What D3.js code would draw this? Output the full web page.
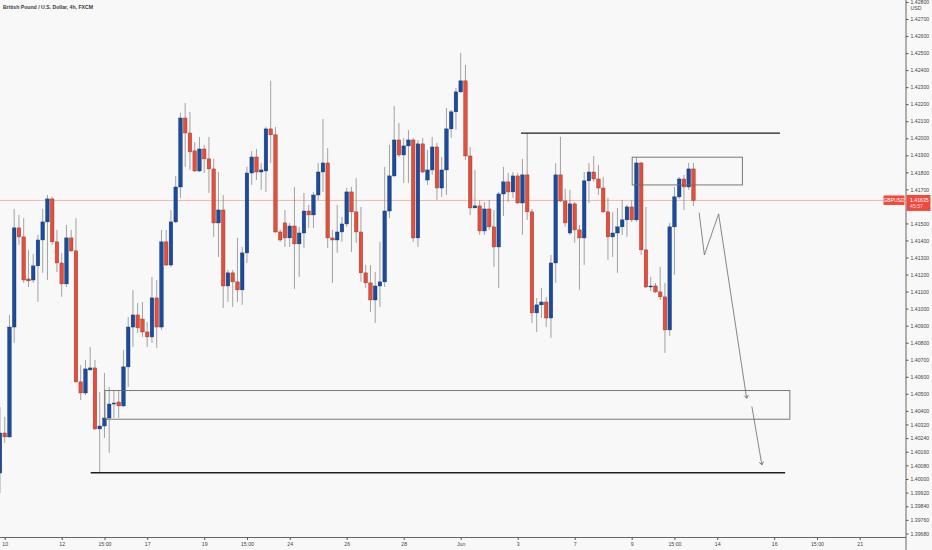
<!DOCTYPE html>
<html lang="en">
<head>
<meta charset="utf-8">
<title>GBPUSD 4h</title>
<script src="https://d3js.org/d3.v7.min.js"></script>
<style>
  html, body { margin: 0; padding: 0; background: #f8f8f8; }
  svg { display: block; font-family: "Liberation Sans", Arial, sans-serif; }
</style>
</head>
<body>
<script>
  // bar index of the first candle (last bar of Friday May 7)
  const firstBar = -1;

  // 4h candles
  const opens = [1.40035, 1.40270, 1.40247, 1.40892, 1.41474, 1.41421, 1.41174, 1.41168, 1.41251, 1.41403,
    1.41509, 1.41644, 1.41392, 1.41268, 1.41145, 1.41415, 1.41339, 1.40570, 1.40505, 1.40640,
    1.40652, 1.40294, 1.40311, 1.40358, 1.40440, 1.40452, 1.40429, 1.40658, 1.40892, 1.40963,
    1.40939, 1.40863, 1.40834, 1.41063, 1.40892, 1.41392, 1.41256, 1.41509, 1.41714, 1.42119,
    1.42031, 1.41926, 1.41808, 1.41937, 1.41879, 1.41820, 1.41503, 1.41579, 1.41133, 1.41210,
    1.41157, 1.41110, 1.41327, 1.41796, 1.41890, 1.41802, 1.41808, 1.42055, 1.42020, 1.41450,
    1.41503, 1.41415, 1.41485, 1.41380, 1.41444, 1.41573, 1.41550, 1.41667, 1.41802, 1.41855,
    1.41415, 1.41403, 1.41450, 1.41497, 1.41685, 1.41568, 1.41450, 1.41210, 1.41151, 1.41051,
    1.41133, 1.41157, 1.41573, 1.41779, 1.41990, 1.41902, 1.41955, 1.41990, 1.41415, 1.41967,
    1.41755, 1.41814, 1.41949, 1.41708, 1.41814, 1.42055, 1.42155, 1.42272, 1.42337, 1.41896,
    1.41591, 1.41603, 1.41456, 1.41585, 1.41480, 1.41362, 1.41673, 1.41744, 1.41685, 1.41779,
    1.41620, 1.41785, 1.41568, 1.40975, 1.41022, 1.41039, 1.40945, 1.41268, 1.41785, 1.41632,
    1.41444, 1.41615, 1.41462, 1.41415, 1.41750, 1.41802, 1.41761, 1.41708, 1.41568, 1.41421,
    1.41444, 1.41480, 1.41521, 1.41597, 1.41521, 1.41855, 1.41345, 1.41127, 1.41133, 1.41098,
    1.41069, 1.40875, 1.41480, 1.41656, 1.41761, 1.41714, 1.41820];
  const highs = [1.40423, 1.40364, 1.40963, 1.41585, 1.41550, 1.41532, 1.41345, 1.41321, 1.41433, 1.41585,
    1.41667, 1.41656, 1.41462, 1.41327, 1.41491, 1.41462, 1.41532, 1.40669, 1.40699, 1.40775,
    1.40699, 1.40511, 1.40622, 1.40540, 1.40523, 1.40523, 1.40757, 1.40951, 1.41110, 1.41033,
    1.41039, 1.40922, 1.41186, 1.41168, 1.41462, 1.41462, 1.41579, 1.41779, 1.42149, 1.42207,
    1.42155, 1.41978, 1.42008, 1.41961, 1.42008, 1.41879, 1.41802, 1.41667, 1.41227, 1.41227,
    1.41415, 1.41362, 1.41832, 1.41926, 1.41937, 1.41855, 1.42067, 1.42337, 1.42067, 1.41462,
    1.41579, 1.41503, 1.41714, 1.41480, 1.41679, 1.41609, 1.41685, 1.41855, 1.42113, 1.41943,
    1.41462, 1.41609, 1.41538, 1.41708, 1.41714, 1.41767, 1.41597, 1.41256, 1.41256, 1.41215,
    1.41392, 1.41832, 1.41961, 1.42190, 1.42090, 1.42002, 1.42049, 1.42002, 1.41990, 1.42002,
    1.41932, 1.42008, 1.41973, 1.41890, 1.42178, 1.42166, 1.42295, 1.42501, 1.42430, 1.41949,
    1.41814, 1.41638, 1.41626, 1.41638, 1.41579, 1.41685, 1.41832, 1.41796, 1.41802, 1.41796,
    1.41879, 1.42031, 1.41585, 1.41063, 1.41121, 1.41069, 1.41315, 1.41855, 1.42008, 1.41703,
    1.41697, 1.41626, 1.41491, 1.41802, 1.41855, 1.41896, 1.41843, 1.41773, 1.41650, 1.41568,
    1.41591, 1.41638, 1.41609, 1.41638, 1.41890, 1.41861, 1.41597, 1.41186, 1.41151, 1.41245,
    1.41151, 1.41503, 1.41714, 1.41773, 1.41785, 1.41855, 1.41855];
  const lows = [1.39918, 1.40212, 1.40241, 1.40799, 1.41374, 1.41151, 1.41127, 1.41151, 1.41039, 1.41210,
    1.41168, 1.41374, 1.41215, 1.41069, 1.41127, 1.41333, 1.40564, 1.40464, 1.40493, 1.40640,
    1.40288, 1.40035, 1.40241, 1.40153, 1.40358, 1.40358, 1.40423, 1.40540, 1.40775, 1.40857,
    1.40834, 1.40775, 1.40799, 1.40769, 1.40875, 1.41251, 1.41245, 1.41503, 1.41650, 1.41832,
    1.41814, 1.41802, 1.41802, 1.41796, 1.41679, 1.41421, 1.41303, 1.41004, 1.41039, 1.41010,
    1.41039, 1.41022, 1.41268, 1.41726, 1.41755, 1.41697, 1.41685, 1.41855, 1.41444, 1.41392,
    1.41362, 1.41362, 1.41116, 1.41186, 1.41356, 1.41474, 1.41474, 1.41638, 1.41685, 1.41356,
    1.41151, 1.41327, 1.41392, 1.41480, 1.41333, 1.41386, 1.41157, 1.41121, 1.40981, 1.40916,
    1.41010, 1.41127, 1.41532, 1.41773, 1.41890, 1.41738, 1.41738, 1.41392, 1.41362, 1.41796,
    1.41726, 1.41785, 1.41638, 1.41656, 1.41667, 1.42002, 1.42049, 1.42266, 1.41873, 1.41550,
    1.41591, 1.41433, 1.41433, 1.41462, 1.41245, 1.41121, 1.41544, 1.41626, 1.41650, 1.41615,
    1.41433, 1.41521, 1.40916, 1.40863, 1.40945, 1.40892, 1.40828, 1.41151, 1.41626, 1.41480,
    1.41433, 1.41386, 1.41110, 1.41256, 1.41620, 1.41744, 1.41667, 1.41562, 1.41286, 1.41303,
    1.41210, 1.41433, 1.41421, 1.41509, 1.41509, 1.41315, 1.41121, 1.41104, 1.41092, 1.41051,
    1.40740, 1.40840, 1.41198, 1.41644, 1.41579, 1.41697, 1.41603];
  const closes = [1.40270, 1.40247, 1.40892, 1.41474, 1.41421, 1.41168, 1.41163, 1.41251, 1.41403, 1.41509,
    1.41644, 1.41392, 1.41268, 1.41145, 1.41415, 1.41339, 1.40570, 1.40505, 1.40646, 1.40652,
    1.40294, 1.40311, 1.40358, 1.40440, 1.40446, 1.40429, 1.40658, 1.40892, 1.40963, 1.40887,
    1.40863, 1.40834, 1.41063, 1.40892, 1.41392, 1.41256, 1.41509, 1.41714, 1.42119, 1.42031,
    1.41920, 1.41808, 1.41937, 1.41879, 1.41820, 1.41503, 1.41579, 1.41133, 1.41210, 1.41157,
    1.41110, 1.41327, 1.41796, 1.41890, 1.41802, 1.41814, 1.42055, 1.42020, 1.41450, 1.41403,
    1.41415, 1.41485, 1.41380, 1.41444, 1.41573, 1.41550, 1.41667, 1.41802, 1.41855, 1.41415,
    1.41403, 1.41450, 1.41497, 1.41685, 1.41568, 1.41450, 1.41210, 1.41151, 1.41051, 1.41133,
    1.41157, 1.41573, 1.41779, 1.41990, 1.41902, 1.41955, 1.41990, 1.41415, 1.41967, 1.41802,
    1.41814, 1.41949, 1.41708, 1.41814, 1.42055, 1.42155, 1.42272, 1.42337, 1.41896, 1.41591,
    1.41603, 1.41456, 1.41585, 1.41480, 1.41362, 1.41673, 1.41744, 1.41685, 1.41779, 1.41620,
    1.41785, 1.41568, 1.40975, 1.41022, 1.41039, 1.40945, 1.41268, 1.41785, 1.41632, 1.41503,
    1.41615, 1.41462, 1.41415, 1.41750, 1.41802, 1.41761, 1.41708, 1.41568, 1.41421, 1.41444,
    1.41480, 1.41521, 1.41597, 1.41521, 1.41855, 1.41345, 1.41127, 1.41133, 1.41098, 1.41069,
    1.40875, 1.41480, 1.41656, 1.41761, 1.41714, 1.41820, 1.41635];

  // axis ticks
  const priceTicks = [1.428, 1.427, 1.426, 1.425, 1.424, 1.423, 1.422, 1.421, 1.420, 1.419, 1.418, 1.417,
    1.415, 1.414, 1.413, 1.412, 1.411, 1.410, 1.409, 1.408, 1.407, 1.406, 1.405, 1.404,
    1.4032, 1.4024, 1.4016, 1.4008, 1.400, 1.3992, 1.3984, 1.3976, 1.3968];
  const timeTickBars = [0, 12, 21, 30, 42, 51, 60, 72, 84, 96, 108, 120, 132, 141, 150, 162, 171, 180];
  const timeTickLabels = ["10", "12", "15:00", "17", "19", "15:00", "24", "26", "28", "Jun",
    "3", "7", "9", "15:00", "14", "16", "15:00", "21"];

  const lastPrice = 1.41635;

  // drawings on the chart (bar index / price)
  const zones = [
    { b0: 132.1, b1: 155.3, p0: 1.41889, p1: 1.41726 },
    { b0: 21.1, b1: 165.3, p0: 1.40519, p1: 1.40351 }
  ];
  const levels = [
    { b0: 108.7, b1: 163.2, p: 1.42030 },
    { b0: 18.1, b1: 164.3, p: 1.40037 }
  ];
  const pathBars = [146.2, 147.3, 150.3, 156.2];
  const pathPrices = [1.41563, 1.41315, 1.41556, 1.40474];
  const arrow2Bars = [157.3, 159.4];
  const arrow2Prices = [1.40425, 1.40083];

  const width = 932, height = 550;
  const plotRight = 906, plotBottom = 537.5;
  const blue = "#1b4b9b", red = "#e1503c", tagRed = "#ef4a3c";

  const svg = d3.select("body").append("svg")
    .attr("width", width)
    .attr("height", height);

  svg.append("rect").attr("width", width).attr("height", height).attr("fill", "#f8f8f8");

  const defs = svg.append("defs");
  defs.append("clipPath").attr("id", "plot")
    .append("rect").attr("width", plotRight).attr("height", plotBottom);
  defs.append("marker")
    .attr("id", "head")
    .attr("viewBox", "-5 -5 10 10")
    .attr("markerUnits", "userSpaceOnUse")
    .attr("markerWidth", 10).attr("markerHeight", 10)
    .attr("orient", "auto")
    .append("path")
    .attr("d", "M-3,-2.2L0,0L-3,2.2")
    .attr("fill", "none")
    .attr("stroke", "#666")
    .attr("stroke-width", 0.8);

  const x = d3.scaleLinear().domain([0, 180]).range([4.7, 859.7]);
  const y = d3.scaleLinear().domain([1.427, 1.400]).range([19, 479]);

  const candles = opens.map((o, i) => ({
    bar: firstBar + i, o: o, h: highs[i], l: lows[i], c: closes[i]
  }));

  const plot = svg.append("g").attr("clip-path", "url(#plot)");

  // last price line
  plot.append("line")
    .attr("x1", 0).attr("x2", plotRight)
    .attr("y1", y(lastPrice)).attr("y2", y(lastPrice))
    .attr("stroke", "#f3a6a0")
    .attr("stroke-width", 0.8);

  // wicks
  plot.append("g")
    .selectAll("line")
    .data(candles)
    .join("line")
    .attr("x1", d => x(d.bar)).attr("x2", d => x(d.bar))
    .attr("y1", d => y(d.h)).attr("y2", d => y(d.l))
    .attr("stroke", "#8c8c8c")
    .attr("stroke-width", 0.8);

  // bodies
  const bodyW = 3.6;
  plot.append("g")
    .selectAll("rect")
    .data(candles)
    .join("rect")
    .attr("x", d => x(d.bar) - bodyW / 2)
    .attr("width", bodyW)
    .attr("y", d => y(Math.max(d.o, d.c)))
    .attr("height", d => Math.max(1, Math.abs(y(d.o) - y(d.c))))
    .attr("fill", d => d.c >= d.o ? blue : red)
    .attr("stroke", d => d.c >= d.o ? "#12336d" : "#9b3326")
    .attr("stroke-width", 0.4);

  // zones
  plot.append("g")
    .selectAll("rect")
    .data(zones)
    .join("rect")
    .attr("x", d => x(d.b0))
    .attr("width", d => x(d.b1) - x(d.b0))
    .attr("y", d => y(d.p0))
    .attr("height", d => y(d.p1) - y(d.p0))
    .attr("fill", "none")
    .attr("stroke", "#6a6a6a")
    .attr("stroke-width", 0.9);

  // levels
  plot.append("g")
    .selectAll("line")
    .data(levels)
    .join("line")
    .attr("x1", d => x(d.b0)).attr("x2", d => x(d.b1))
    .attr("y1", d => y(d.p)).attr("y2", d => y(d.p))
    .attr("stroke", "#1e1e1e")
    .attr("stroke-width", 1.4);

  // projected path
  const line = d3.line().x(d => x(d[0])).y(d => y(d[1]));
  plot.append("path")
    .attr("d", line(d3.zip(pathBars, pathPrices)))
    .attr("fill", "none")
    .attr("stroke", "#6a6a6a")
    .attr("stroke-width", 0.8)
    .attr("marker-end", "url(#head)");
  plot.append("path")
    .attr("d", line(d3.zip(arrow2Bars, arrow2Prices)))
    .attr("fill", "none")
    .attr("stroke", "#6a6a6a")
    .attr("stroke-width", 0.8)
    .attr("marker-end", "url(#head)");

  // price axis
  const yAxis = svg.append("g")
    .attr("transform", "translate(" + plotRight + ",0)")
    .call(d3.axisRight(y).tickValues(priceTicks).tickFormat(d3.format(".5f")).tickSize(2.5).tickPadding(2));
  yAxis.select(".domain").remove();
  yAxis.selectAll("line").attr("stroke", "#555");
  yAxis.selectAll("text").attr("font-size", 5.2).attr("fill", "#444")
    .attr("font-family", "'Liberation Sans', Arial, sans-serif");

  svg.append("rect").attr("x", plotRight + 1).attr("y", 4).attr("width", 24).attr("height", 7).attr("fill", "#f8f8f8");
  svg.append("text").attr("x", 916).attr("y", 9.5)
    .attr("font-size", 5.2).attr("fill", "#444").attr("text-anchor", "middle").text("USD");

  // time axis
  const xAxis = svg.append("g")
    .attr("transform", "translate(0," + plotBottom + ")")
    .call(d3.axisBottom(x).tickValues(timeTickBars).tickFormat((d, i) => timeTickLabels[i]).tickSize(2.5).tickPadding(2));
  xAxis.select(".domain").remove();
  xAxis.selectAll("line").attr("stroke", "#555");
  xAxis.selectAll("text").attr("font-size", 5.2).attr("fill", "#444")
    .attr("font-family", "'Liberation Sans', Arial, sans-serif");

  // axis frame
  svg.append("line").attr("x1", plotRight).attr("x2", plotRight).attr("y1", 0).attr("y2", height)
    .attr("stroke", "#555").attr("stroke-width", 0.9);
  svg.append("line").attr("x1", 0).attr("x2", plotRight).attr("y1", plotBottom).attr("y2", plotBottom)
    .attr("stroke", "#555").attr("stroke-width", 0.9);

  // last price tags
  const ly = y(lastPrice);
  svg.append("rect").attr("x", 883.5).attr("y", ly - 5).attr("width", 21).attr("height", 9.5).attr("fill", tagRed);
  svg.append("text").attr("x", 894).attr("y", ly + 1.8).attr("text-anchor", "middle")
    .attr("font-size", 5).attr("fill", "#fff").text("GBPUSD");
  svg.append("rect").attr("x", plotRight + 0.5).attr("y", ly - 5.5).attr("width", 24).attr("height", 16).attr("fill", tagRed);
  svg.append("text").attr("x", 910).attr("y", ly + 1.5)
    .attr("font-size", 5.2).attr("fill", "#fff").text(d3.format(".5f")(lastPrice));
  svg.append("text").attr("x", 910).attr("y", ly + 8)
    .attr("font-size", 5.2).attr("fill", "#fde").text("45:57");

  // title
  svg.append("text").attr("x", 3).attr("y", 9)
    .attr("font-size", 6).attr("font-weight", "bold").attr("fill", "#3a3a3a")
    .attr("textLength", 90).attr("lengthAdjust", "spacingAndGlyphs")
    .text("British Pound / U.S. Dollar, 4h, FXCM");
</script>
</body>
</html>
